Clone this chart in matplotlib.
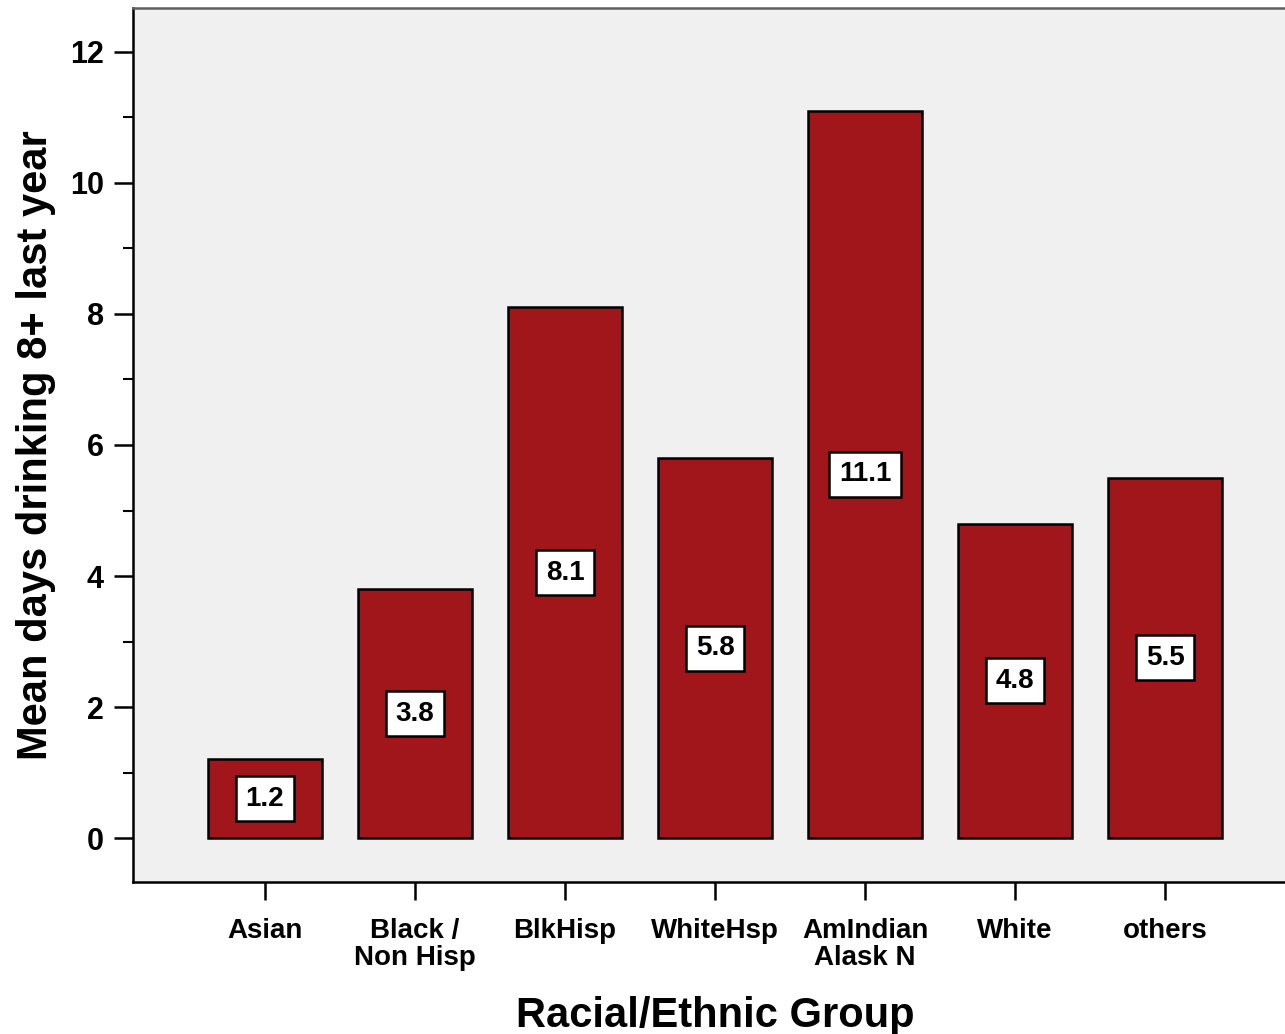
import matplotlib
matplotlib.use("Agg")
import matplotlib.pyplot as plt
from matplotlib.ticker import MultipleLocator

groups = ['Asian', 'Black /\nNon Hisp', 'BlkHisp', 'WhiteHsp',
          'AmIndian\nAlask N', 'White', 'others']
mean_days = [1.2, 3.8, 8.1, 5.8, 11.1, 4.8, 5.5]

bar_color = '#A0161A'
panel_color = '#F0F0F0'

plt.rcParams['font.family'] = ['Liberation Sans', 'DejaVu Sans']
plt.rcParams['font.weight'] = 'bold'

fig = plt.figure(figsize=(12.85, 10.34), dpi=100)
# right edge runs off the canvas, so no right spine shows
ax = fig.add_axes([133/1285, 1 - 882/1034, 1164/1285, 874/1034])
ax.set_facecolor(panel_color)

xpos = list(range(len(groups)))
ax.bar(xpos, mean_days, width=0.755, color=bar_color,
       edgecolor='black', linewidth=1.8, zorder=2)

for x, v in zip(xpos, mean_days):
    ax.text(x, v / 2, '%.1f' % v, ha='center', va='center',
            fontsize=20, fontweight='bold', zorder=3,
            bbox=dict(boxstyle='square,pad=0.34', facecolor='white',
                      edgecolor='black', linewidth=1.8))

ax.set_xlim(-0.88, 6.88)
ax.set_ylim(-0.67, 12.67)
ax.set_xticks(xpos)
ax.set_xticklabels(groups, fontsize=20, fontweight='bold', linespacing=1.05)
ax.yaxis.set_major_locator(MultipleLocator(2))
ax.yaxis.set_minor_locator(MultipleLocator(1))
for lab in ax.get_yticklabels():
    lab.set_fontweight('bold')
ax.tick_params(axis='y', which='major', length=14, width=1.8,
               labelsize=22, pad=7)
ax.tick_params(axis='y', which='minor', length=7, width=1.5)
ax.tick_params(axis='x', length=13, width=1.8, pad=13)

for side in ['left', 'bottom', 'top']:
    ax.spines[side].set_linewidth(1.8)
ax.spines['top'].set_color('#606060')
ax.spines['right'].set_visible(False)

ax.set_ylabel('Mean days drinking 8+ last year', fontsize=30,
              fontweight='bold', labelpad=10)
ax.set_xlabel('Racial/Ethnic Group', fontsize=30, fontweight='bold',
              labelpad=18)

fig.savefig('out.png', dpi=100)
